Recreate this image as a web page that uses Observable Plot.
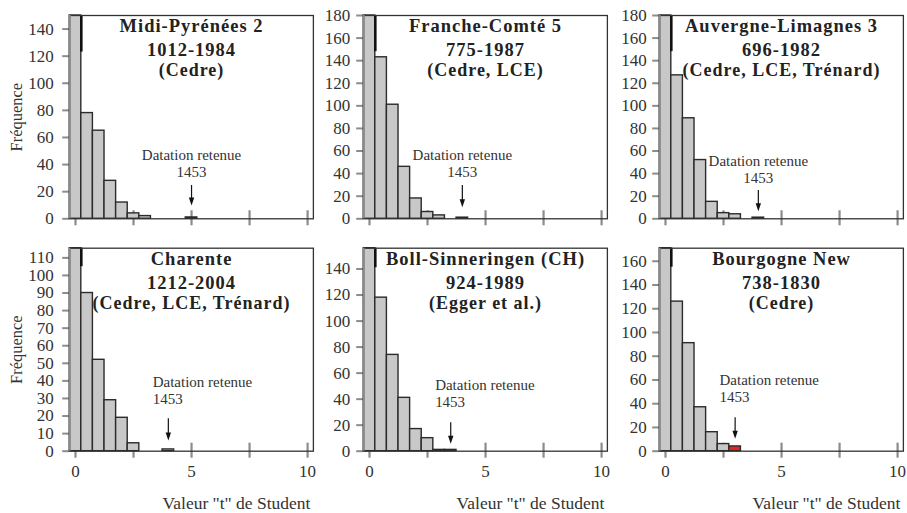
<!DOCTYPE html>
<html><head><meta charset="utf-8">
<script src="https://cdn.jsdelivr.net/npm/d3@7"></script>
<script src="https://cdn.jsdelivr.net/npm/@observablehq/plot@0.6"></script>
<style>
body{margin:0;background:#fff;}
#wrap{position:relative;width:907px;height:513px;overflow:hidden;}
#wrap svg{position:absolute;}
</style></head><body><div id="wrap"></div>
<script>
// ---- data ----
const names = ["Midi-Pyrénées 2","Franche-Comté 5","Auvergne-Limagnes 3","Charente","Boll-Sinneringen (CH)","Bourgogne New"];
const periods = ["1012-1984","775-1987","696-1982","1212-2004","924-1989","738-1830"];
const sources = ["(Cedre)","(Cedre, LCE)","(Cedre, LCE, Trénard)","(Cedre, LCE, Trénard)","(Egger et al.)","(Cedre)"];
const binCenters = [0,0.5,1,1.5,2,2.5,3,3.5,4,4.5,5];
const countsMidi      = [175,78,65,28,12,4,2,0,0,0,1];
const countsFranche   = [215,143,101,46,18,6,3,0,1,0,0];
const countsAuvergne  = [205,127,89,52,15,5,4,0,1,0,0];
const countsCharente  = [140,90,52,29,19,4.5,0,0,1,0,0];
const countsBoll      = [180,118,74,41,17,10,1,1,0,0,0];
const countsBourgogne = [200,126,91,37,16,6,4,0,0,0,0];
const t1453 = [5,4,4,4,3.5,3];
const yMax = [150,180,180,115.5,156,171];
const yTicksA = [0,20,40,60,80,100,120,140];
const yTicksB = [0,20,40,60,80,100,120,140,160,180];
const yTicksC = [0,10,20,30,40,50,60,70,80,90,100,110];
const yTicksD = [0,20,40,60,80,100,120,140,160];
const edgeTop = [123,148,148,105,141,155];
const xTicks = [0,2.5,5,7.5,10];
const xTickLabels = [0,5,10];
const annoLabel = "Datation retenue";
const annoYear = "1453";
const yLabel = "Fréquence";
const xLabel = "Valeur \"t\" de Student";

// ---- layout ----
const counts = [countsMidi,countsFranche,countsAuvergne,countsCharente,countsBoll,countsBourgogne];
const yTicks = [yTicksA,yTicksB,yTicksB,yTicksC,yTicksA,yTicksD];
const highlight = [false,false,false,false,false,true];
const frameLefts = [69.2,363.5,659.5];
const tickPads = [9,6.5,6];
const frameW = 243.7;
const ML = 69.2, MR = 5;
const rows = [
  {top:0, mt:15, mb:13.7, h:232},
  {top:232, mt:15.7, mb:62.3, h:281}
];
// annotation pixel offsets above the x axis: [label baseline, year baseline, arrow top, arrow tip, dx, anchor]
const anno = [
  [59,41.6,33.3,13.3,0,"middle"],
  [59,41.6,33.3,11.6,0,"middle"],
  [53,36.2,28.3,7.6,0,"middle"],
  [64,47.4,32.4,10.7,-15.6,"start"],
  [61.4,44,28.4,7.4,-15.6,"start"],
  [65.7,49.5,33.4,12.4,-15.6,"start"]
];
const head = {draw(ctx){ctx.moveTo(-2.7,-8);ctx.lineTo(2.7,-8);ctx.lineTo(0,0);ctx.closePath();}};
const serif = "Liberation Serif, Times New Roman, serif";
const wrap = document.getElementById("wrap");

for (let i = 0; i < 6; i++) {
  const r = rows[Math.floor(i/3)], col = i % 3, bottom = i >= 3;
  const innerH = r.h - r.mt - r.mb;
  const bins = binCenters.map((c,k)=>({c, v: counts[i][k]})).filter(d=>d.v>0);
  const a = anno[i];
  const marks = [
    Plot.tickX(xTicks, {x:d=>d, stroke:"#8c8c8c", strokeWidth:2.2, insetTop: innerH-8, insetBottom:-7}),
    Plot.axisY(yTicks[i], {tickSize:7, tickPadding:tickPads[col], stroke:"#8c8c8c", strokeWidth:2, fill:"#333", label:null, fontSize:17, fontFamily:serif}),
    Plot.rect(bins, {x1:d=>d.c-0.25, x2:d=>d.c+0.25, y1:0, y2:d=>Math.min(d.v, yMax[i]),
      fill: d => (highlight[i] && d.c===t1453[i]) ? "#e3261f" : "#c8c8c8", stroke:"#2b2b2b", strokeWidth:1.4}),
    Plot.ruleX([0.25], {x:d=>d, y1:edgeTop[i], y2:yMax[i], stroke:"#111", strokeWidth:2.6}),
    Plot.frame({stroke:"#333", strokeWidth:1.3}),
    Plot.ruleX([-0.25], {x:d=>d, stroke:"#8c8c8c", strokeWidth:1.8}),
    Plot.text([names[i]], {frameAnchor:"top", dy:17, lineAnchor:"bottom", fontWeight:"bold", fontSize:18.5, fontFamily:serif, fill:"#222"}),
    Plot.text([periods[i]], {frameAnchor:"top", dy:40.5, lineAnchor:"bottom", fontWeight:"bold", fontSize:18.5, fontFamily:serif, fill:"#222"}),
    Plot.text([sources[i]], {frameAnchor:"top", dy:60.5, lineAnchor:"bottom", fontWeight:"bold", fontSize:18, fontFamily:serif, fill:"#222"}),
    Plot.text([t1453[i]], {x:d=>d, text:()=>annoLabel, frameAnchor:"bottom", dy:-a[0], dx:a[4], textAnchor:a[5], lineAnchor:"bottom", fontSize:15, fontFamily:serif, fill:"#333"}),
    Plot.text([t1453[i]], {x:d=>d, text:()=>annoYear, frameAnchor:"bottom", dy:-a[1], dx:a[4], textAnchor:a[5], lineAnchor:"bottom", fontSize:15, fontFamily:serif, fill:"#333"}),
    Plot.ruleX([t1453[i]], {x:d=>d, insetTop: innerH - a[2], insetBottom: a[3] + 6, stroke:"#111", strokeWidth:1.2}),
    Plot.dot([t1453[i]], {x:d=>d, frameAnchor:"bottom", dy:-a[3], symbol: head, fill:"#111", stroke:"none"})
  ];
  if (bottom) {
    marks.push(Plot.axisX(xTickLabels, {tickSize:0, tickPadding:14, fill:"#333", label:null, fontSize:17, fontFamily:serif}));
    marks.push(Plot.text([xLabel], {frameAnchor:"bottom-right", dx:-3, dy:57.6, textAnchor:"end", lineAnchor:"bottom", fontSize:17.5, fontFamily:serif, fill:"#333"}));
  }
  if (col === 0) {
    marks.push(Plot.text([yLabel], {frameAnchor:"left", dx:-48, rotate:-90, textAnchor:"middle", lineAnchor:"bottom", fontSize:16.5, fontFamily:serif, fill:"#333"}));
  }
  const svg = Plot.plot({
    width: ML + frameW + MR, height: r.h,
    marginLeft: ML, marginRight: MR, marginTop: r.mt, marginBottom: r.mb,
    x: {domain:[-0.25,10.25], axis: bottom ? undefined : null},
    y: {domain:[0,yMax[i]]},
    style: {fontFamily: serif, fontSize:"17px", color:"#333", background:"transparent", overflow:"visible"},
    marks
  });
  svg.style.left = (frameLefts[col] - ML) + "px";
  svg.style.top = r.top + "px";
  d3.select(svg).selectAll("g[font-weight=bold]").style("letter-spacing","1px");
  wrap.appendChild(svg);
}
</script></body></html>
